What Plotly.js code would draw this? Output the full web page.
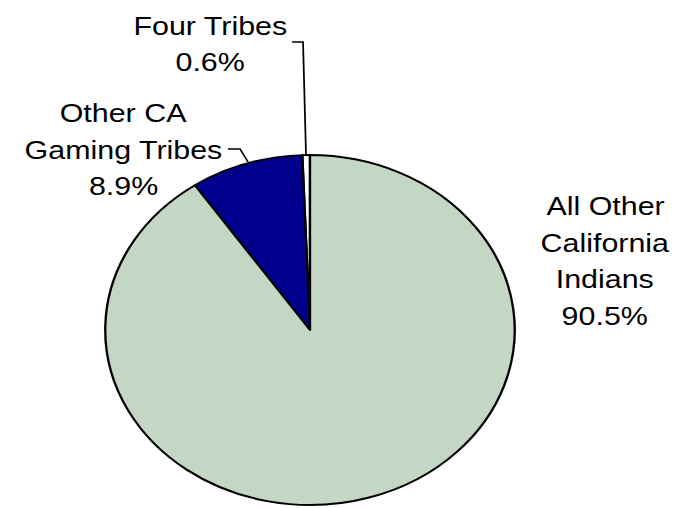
<!DOCTYPE html>
<html>
<head>
<meta charset="utf-8">
<script src="https://cdn.plot.ly/plotly-3.0.1.min.js"></script>
<style>
  html, body { margin: 0; padding: 0; background: #ffffff; overflow: hidden; }
  #chart { width: 577px; height: 508px; transform: scaleX(1.17); transform-origin: 0 0; }
</style>
</head>
<body>
<div id="chart"></div>
<script>
// ---- data ----
var categories = ["Four Tribes", "Other CA Gaming Tribes", "All Other California Indians"];
var values = [0.6, 8.9, 90.5];
var labelLines = [
  ["Four Tribes"],
  ["Other CA", "Gaming Tribes"],
  ["All Other", "California", "Indians"]
];
var sliceColors = ["#ffffff", "#00008c", "#c4d6c4"];

// ---- layout helpers (pixel positions in the 675x508 picture) ----
var W = 675, H = 508;
function px(x) { return x / W; }
function py(y) { return 1 - y / H; }

var labelAnchors = [
  { x: 210, y: 25.5 },
  { x: 124, y: 113 },
  { x: 605, y: 206 }
];
var lineGap = 36.7;
var font = { family: "Liberation Sans, Arial, sans-serif", size: 26, color: "#000000" };

var annotations = [];
labelLines.forEach(function (lines, i) {
  var all = lines.concat([values[i].toFixed(1) + "%"]);
  all.forEach(function (t, j) {
    annotations.push({
      xref: "paper", yref: "paper",
      x: px(labelAnchors[i].x), y: py(labelAnchors[i].y + j * lineGap),
      xanchor: "center", yanchor: "middle",
      text: t, showarrow: false, font: font
    });
  });
});

function pathFrom(pts) {
  return pts.map(function (p, k) { return (k ? "L" : "M") + px(p[0]) + "," + py(p[1]); }).join(" ");
}
var shapes = [
  { type: "path", xref: "paper", yref: "paper",
    path: pathFrom([[292, 42], [303, 42], [306, 156]]),
    line: { color: "#000000", width: 1.5 } },
  { type: "path", xref: "paper", yref: "paper",
    path: pathFrom([[228, 149], [240, 149], [248, 162]]),
    line: { color: "#000000", width: 1.5 } }
];

// total so the first slice starts at 12 o'clock going counterclockwise
var total = values.reduce(function (a, b) { return a + b; }, 0);

// pie: centre (310,330) in the picture, vertical radius 175
var cx = 310 / 1.17, cy = 330, r = 175, divW = 577;
var trace = {
  type: "pie",
  labels: categories,
  values: values,
  sort: false,
  direction: "counterclockwise",
  rotation: -360 * values[0] / total,
  textinfo: "none",
  hoverinfo: "none",
  showlegend: false,
  marker: { colors: sliceColors, line: { color: "#000000", width: 2 } },
  domain: {
    x: [(cx - r) / divW, (cx + r) / divW],
    y: [(H - cy - r) / H, (H - cy + r) / H]
  }
};

var layout = {
  width: divW, height: H,
  margin: { l: 0, r: 0, t: 0, b: 0 },
  paper_bgcolor: "#ffffff",
  plot_bgcolor: "#ffffff",
  showlegend: false,
  annotations: annotations,
  shapes: shapes
};

Plotly.newPlot("chart", [trace], layout, { displayModeBar: false, staticPlot: true });
</script>
</body>
</html>
